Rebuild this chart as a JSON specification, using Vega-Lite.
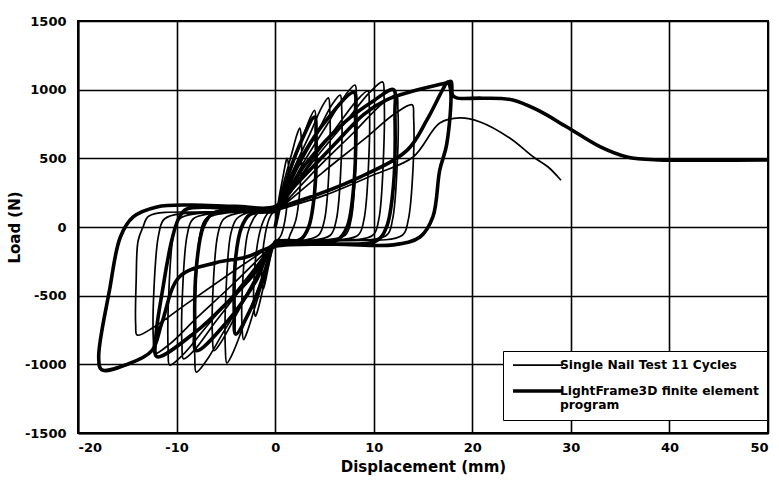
{
  "$schema": "https://vega.github.io/schema/vega-lite/v6.json",
  "width": 690,
  "height": 412,
  "autosize": {"type": "none"},
  "padding": {"left": 78, "top": 21, "right": 11, "bottom": 69},
  "background": "white",
  "config": {
    "view": {"stroke": "black", "strokeWidth": 2},
    "font": "DejaVu Sans",
    "axis": {
      "grid": true, "gridColor": "black", "gridWidth": 1.6, "gridOpacity": 1,
      "domainColor": "black", "domainWidth": 2, "ticks": false,
      "labelFont": "DejaVu Sans", "labelFontWeight": "bold", "labelFontSize": 13, "labelColor": "black",
      "labelExpr": "'' + datum.value",
      "titleFont": "DejaVu Sans", "titleFontWeight": "bold", "titleFontSize": 15, "titleColor": "black"
    }
  },
  "data": {"values": [
    {"s":"a","x":0,"y":0},
    {"s":"a","x":0.2,"y":120},{"s":"a","x":0.42,"y":225},{"s":"a","x":0.78,"y":360},{"s":"a","x":1.06,"y":465},{"s":"a","x":1.2,"y":500},{"s":"a","x":1.35,"y":450},{"s":"a","x":1.3,"y":250},{"s":"a","x":1.0,"y":50},{"s":"a","x":0.6,"y":-60},{"s":"a","x":0.3,"y":-90},{"s":"a","x":0,"y":-100},
    {"s":"a","x":-0.2,"y":-120},{"s":"a","x":-0.42,"y":-200},{"s":"a","x":-0.78,"y":-325},{"s":"a","x":-1.06,"y":-420},{"s":"a","x":-1.2,"y":-450},{"s":"a","x":-1.35,"y":-405},{"s":"a","x":-1.3,"y":-225},{"s":"a","x":-1.0,"y":-50},{"s":"a","x":-0.6,"y":60},{"s":"a","x":-0.3,"y":100},{"s":"a","x":0,"y":110},
    {"s":"a","x":0.2,"y":120},{"s":"a","x":0.88,"y":325},{"s":"a","x":1.63,"y":520},{"s":"a","x":2.2,"y":670},{"s":"a","x":2.5,"y":720},{"s":"a","x":2.65,"y":650},{"s":"a","x":2.6,"y":360},{"s":"a","x":2.1,"y":50},{"s":"a","x":1.5,"y":-60},{"s":"a","x":1.25,"y":-100},{"s":"a","x":0,"y":-100},
    {"s":"a","x":-0.2,"y":-120},{"s":"a","x":-0.7,"y":-290},{"s":"a","x":-1.3,"y":-470},{"s":"a","x":-1.76,"y":-605},{"s":"a","x":-2.0,"y":-650},{"s":"a","x":-2.15,"y":-585},{"s":"a","x":-2.1,"y":-325},{"s":"a","x":-1.6,"y":-50},{"s":"a","x":-1.1,"y":60},{"s":"a","x":-0.6,"y":110},{"s":"a","x":0,"y":110},
    {"s":"a","x":0.2,"y":120},{"s":"a","x":1.4,"y":380},{"s":"a","x":2.6,"y":610},{"s":"a","x":3.52,"y":790},{"s":"a","x":4.0,"y":850},{"s":"a","x":4.15,"y":765},{"s":"a","x":4.1,"y":425},{"s":"a","x":3.6,"y":50},{"s":"a","x":3.0,"y":-60},{"s":"a","x":2.0,"y":-100},{"s":"a","x":0,"y":-100},
    {"s":"a","x":-0.2,"y":-120},{"s":"a","x":-1.12,"y":-370},{"s":"a","x":-2.08,"y":-590},{"s":"a","x":-2.82,"y":-760},{"s":"a","x":-3.2,"y":-820},{"s":"a","x":-3.35,"y":-740},{"s":"a","x":-3.3,"y":-410},{"s":"a","x":-2.8,"y":-50},{"s":"a","x":-2.2,"y":60},{"s":"a","x":-1.6,"y":110},{"s":"a","x":0,"y":110},
    {"s":"a","x":0.2,"y":120},{"s":"a","x":1.89,"y":425},{"s":"a","x":3.51,"y":675},{"s":"a","x":4.75,"y":875},{"s":"a","x":5.4,"y":940},{"s":"a","x":5.55,"y":845},{"s":"a","x":5.5,"y":470},{"s":"a","x":5.0,"y":50},{"s":"a","x":4.4,"y":-60},{"s":"a","x":2.7,"y":-100},{"s":"a","x":0,"y":-100},
    {"s":"a","x":-0.2,"y":-120},{"s":"a","x":-1.72,"y":-445},{"s":"a","x":-3.19,"y":-715},{"s":"a","x":-4.31,"y":-920},{"s":"a","x":-4.9,"y":-990},{"s":"a","x":-5.05,"y":-890},{"s":"a","x":-5.0,"y":-495},{"s":"a","x":-4.5,"y":-50},{"s":"a","x":-3.9,"y":60},{"s":"a","x":-2.45,"y":110},{"s":"a","x":0,"y":110},
    {"s":"a","x":0.2,"y":120},{"s":"a","x":2.31,"y":430},{"s":"a","x":4.29,"y":690},{"s":"a","x":5.81,"y":895},{"s":"a","x":6.6,"y":960},{"s":"a","x":6.75,"y":865},{"s":"a","x":6.7,"y":480},{"s":"a","x":6.2,"y":50},{"s":"a","x":5.6,"y":-60},{"s":"a","x":3.3,"y":-100},{"s":"a","x":0,"y":-100},
    {"s":"a","x":-0.2,"y":-120},{"s":"a","x":-2.17,"y":-405},{"s":"a","x":-4.03,"y":-650},{"s":"a","x":-5.46,"y":-835},{"s":"a","x":-6.2,"y":-900},{"s":"a","x":-6.35,"y":-810},{"s":"a","x":-6.3,"y":-450},{"s":"a","x":-5.8,"y":-50},{"s":"a","x":-5.2,"y":60},{"s":"a","x":-3.1,"y":110},{"s":"a","x":0,"y":110},
    {"s":"a","x":0.2,"y":120},{"s":"a","x":2.84,"y":465},{"s":"a","x":5.27,"y":745},{"s":"a","x":7.13,"y":960},{"s":"a","x":8.1,"y":1034},{"s":"a","x":8.25,"y":930},{"s":"a","x":8.2,"y":515},{"s":"a","x":7.7,"y":50},{"s":"a","x":7.1,"y":-60},{"s":"a","x":4.05,"y":-100},{"s":"a","x":0,"y":-100},
    {"s":"a","x":-0.2,"y":-120},{"s":"a","x":-2.8,"y":-475},{"s":"a","x":-5.2,"y":-760},{"s":"a","x":-7.04,"y":-980},{"s":"a","x":-8.0,"y":-1056},{"s":"a","x":-8.15,"y":-950},{"s":"a","x":-8.1,"y":-530},{"s":"a","x":-7.6,"y":-50},{"s":"a","x":-7.0,"y":60},{"s":"a","x":-4.0,"y":110},{"s":"a","x":0,"y":110},
    {"s":"a","x":0.2,"y":120},{"s":"a","x":3.29,"y":445},{"s":"a","x":6.11,"y":715},{"s":"a","x":8.27,"y":920},{"s":"a","x":9.4,"y":990},{"s":"a","x":9.55,"y":890},{"s":"a","x":9.5,"y":495},{"s":"a","x":9.0,"y":50},{"s":"a","x":8.4,"y":-60},{"s":"a","x":4.7,"y":-100},{"s":"a","x":0,"y":-100},
    {"s":"a","x":-0.2,"y":-120},{"s":"a","x":-3.26,"y":-430},{"s":"a","x":-6.05,"y":-690},{"s":"a","x":-8.18,"y":-895},{"s":"a","x":-9.3,"y":-960},{"s":"a","x":-9.45,"y":-865},{"s":"a","x":-9.4,"y":-480},{"s":"a","x":-8.9,"y":-50},{"s":"a","x":-8.3,"y":60},{"s":"a","x":-4.65,"y":110},{"s":"a","x":0,"y":110},
    {"s":"a","x":0.2,"y":120},{"s":"a","x":3.82,"y":475},{"s":"a","x":7.09,"y":760},{"s":"a","x":9.59,"y":980},{"s":"a","x":10.9,"y":1056},{"s":"a","x":11.05,"y":950},{"s":"a","x":11.0,"y":530},{"s":"a","x":10.5,"y":50},{"s":"a","x":9.9,"y":-60},{"s":"a","x":5.45,"y":-100},{"s":"a","x":0,"y":-100},
    {"s":"a","x":-0.2,"y":-120},{"s":"a","x":-3.75,"y":-450},{"s":"a","x":-6.96,"y":-725},{"s":"a","x":-9.42,"y":-935},{"s":"a","x":-10.7,"y":-1005},{"s":"a","x":-10.85,"y":-905},{"s":"a","x":-10.8,"y":-500},{"s":"a","x":-10.3,"y":-50},{"s":"a","x":-9.7,"y":60},{"s":"a","x":-5.35,"y":110},{"s":"a","x":0,"y":110},
    {"s":"a","x":0.2,"y":120},{"s":"a","x":4.31,"y":430},{"s":"a","x":8.0,"y":690},{"s":"a","x":10.82,"y":895},{"s":"a","x":12.3,"y":960},{"s":"a","x":12.45,"y":865},{"s":"a","x":12.4,"y":480},{"s":"a","x":11.9,"y":50},{"s":"a","x":11.3,"y":-60},{"s":"a","x":6.15,"y":-100},{"s":"a","x":0,"y":-100},
    {"s":"a","x":-0.2,"y":-120},{"s":"a","x":-4.27,"y":-415},{"s":"a","x":-7.93,"y":-660},{"s":"a","x":-10.74,"y":-855},{"s":"a","x":-12.2,"y":-920},{"s":"a","x":-12.35,"y":-830},{"s":"a","x":-12.3,"y":-460},{"s":"a","x":-11.8,"y":-50},{"s":"a","x":-11.2,"y":60},{"s":"a","x":-6.1,"y":110},{"s":"a","x":0,"y":110},
    {"s":"a","x":0.2,"y":120},{"s":"a","x":4.87,"y":400},{"s":"a","x":9.04,"y":640},{"s":"a","x":12.23,"y":830},{"s":"a","x":13.9,"y":890},{"s":"a","x":14.05,"y":800},{"s":"a","x":14.0,"y":445},{"s":"a","x":13.5,"y":50},{"s":"a","x":12.9,"y":-60},{"s":"a","x":6.95,"y":-100},{"s":"a","x":0,"y":-100},
    {"s":"a","x":-0.2,"y":-120},{"s":"a","x":-4.9,"y":-355},{"s":"a","x":-9.1,"y":-565},{"s":"a","x":-12.32,"y":-730},{"s":"a","x":-14.0,"y":-787},{"s":"a","x":-14.15,"y":-710},{"s":"a","x":-14.1,"y":-395},{"s":"a","x":-13.9,"y":-100},{"s":"a","x":-13.4,"y":0},{"s":"a","x":-12.8,"y":80},{"s":"a","x":-7,"y":110},{"s":"a","x":0,"y":110},
    {"s":"a","x":0.2,"y":120},{"s":"a","x":5,"y":230},{"s":"a","x":10,"y":380},{"s":"a","x":14,"y":510},{"s":"a","x":16.7,"y":757},{"s":"a","x":18.75,"y":794},{"s":"a","x":20.8,"y":765},{"s":"a","x":23.8,"y":648},{"s":"a","x":26.2,"y":510},{"s":"a","x":27.7,"y":437},{"s":"a","x":28.7,"y":364},{"s":"a","x":29,"y":340},

    {"s":"b","x":0,"y":0},{"s":"b","x":1,"y":300},{"s":"b","x":2.5,"y":600},{"s":"b","x":4,"y":800},{"s":"b","x":4.15,"y":650},{"s":"b","x":4.0,"y":250},{"s":"b","x":3.4,"y":0},{"s":"b","x":2.6,"y":-90},{"s":"b","x":1.2,"y":-110},{"s":"b","x":0,"y":-120},
    {"s":"b","x":-1,"y":-330},{"s":"b","x":-2.5,"y":-600},{"s":"b","x":-4,"y":-780},{"s":"b","x":-4.15,"y":-620},{"s":"b","x":-4.0,"y":-220},{"s":"b","x":-3.4,"y":0},{"s":"b","x":-2.6,"y":90},{"s":"b","x":-1.2,"y":110},{"s":"b","x":0,"y":120},
    {"s":"b","x":2,"y":420},{"s":"b","x":5,"y":760},{"s":"b","x":8,"y":980},{"s":"b","x":8.15,"y":820},{"s":"b","x":8.0,"y":320},{"s":"b","x":7.3,"y":0},{"s":"b","x":6.3,"y":-95},{"s":"b","x":3,"y":-115},{"s":"b","x":0,"y":-120},
    {"s":"b","x":-2,"y":-400},{"s":"b","x":-5,"y":-700},{"s":"b","x":-8,"y":-900},{"s":"b","x":-8.15,"y":-720},{"s":"b","x":-8.0,"y":-300},{"s":"b","x":-7.3,"y":0},{"s":"b","x":-6.3,"y":100},{"s":"b","x":-3,"y":120},{"s":"b","x":0,"y":130},
    {"s":"b","x":3,"y":450},{"s":"b","x":7,"y":760},{"s":"b","x":10,"y":920},{"s":"b","x":12,"y":1000},{"s":"b","x":12.15,"y":830},{"s":"b","x":12.0,"y":300},{"s":"b","x":11.3,"y":0},{"s":"b","x":10.3,"y":-100},{"s":"b","x":5,"y":-125},{"s":"b","x":0,"y":-140},
    {"s":"b","x":-2,"y":-330},{"s":"b","x":-5,"y":-560},{"s":"b","x":-8,"y":-760},{"s":"b","x":-12,"y":-944},{"s":"b","x":-12.1,"y":-800},{"s":"b","x":-11.4,"y":-450},{"s":"b","x":-10.5,"y":-100},{"s":"b","x":-9.8,"y":60},{"s":"b","x":-9,"y":130},{"s":"b","x":-5,"y":140},{"s":"b","x":0,"y":140},
    {"s":"b","x":2,"y":180},{"s":"b","x":8.6,"y":364},{"s":"b","x":13.4,"y":560},{"s":"b","x":15.4,"y":780},{"s":"b","x":17,"y":1000},{"s":"b","x":17.5,"y":1056},{"s":"b","x":17.8,"y":1000},{"s":"b","x":17.4,"y":600},{"s":"b","x":16.7,"y":415},{"s":"b","x":16,"y":73},{"s":"b","x":14.7,"y":-73},{"s":"b","x":12,"y":-130},{"s":"b","x":6,"y":-125},{"s":"b","x":0,"y":-140},
    {"s":"b","x":-3,"y":-220},{"s":"b","x":-6,"y":-260},{"s":"b","x":-9.7,"y":-362},{"s":"b","x":-11.5,"y":-700},{"s":"b","x":-12.5,"y":-900},{"s":"b","x":-15,"y":-1000},{"s":"b","x":-17.6,"y":-1040},{"s":"b","x":-17.9,"y":-950},{"s":"b","x":-16.8,"y":-459},{"s":"b","x":-15.7,"y":-73},{"s":"b","x":-14.4,"y":73},{"s":"b","x":-12,"y":146},{"s":"b","x":-8.6,"y":160},{"s":"b","x":-4,"y":150},{"s":"b","x":0,"y":150},
    {"s":"b","x":2,"y":300},{"s":"b","x":6,"y":600},{"s":"b","x":9,"y":820},{"s":"b","x":11.3,"y":925},{"s":"b","x":14,"y":990},{"s":"b","x":17.4,"y":1050},{"s":"b","x":17.85,"y":1060},{"s":"b","x":18.0,"y":960},{"s":"b","x":18.4,"y":940},{"s":"b","x":21,"y":938},{"s":"b","x":24.1,"y":925},{"s":"b","x":26.6,"y":852},{"s":"b","x":29.6,"y":728},{"s":"b","x":33,"y":583},{"s":"b","x":35.7,"y":510},{"s":"b","x":39,"y":488},{"s":"b","x":44,"y":487},{"s":"b","x":50,"y":488}
  ]},
  "mark": {"type": "line", "interpolate": "catmull-rom", "color": "black", "clip": true},
  "encoding": {
    "x": {"field": "x", "type": "quantitative", "title": "Displacement (mm)",
      "scale": {"domain": [-20, 50], "nice": false},
      "axis": {"values": [-20, -10, 0, 10, 20, 30, 40, 50], "labelPadding": 8, "titlePadding": 5}},
    "y": {"field": "y", "type": "quantitative", "title": "Load (N)",
      "scale": {"domain": [-1500, 1500], "nice": false},
      "axis": {"values": [-1500, -1000, -500, 0, 500, 1000, 1500], "labelPadding": 12, "titlePadding": 2, "titleFontSize": 15}},
    "strokeWidth": {"field": "s", "type": "nominal",
      "scale": {"domain": ["a", "b"], "range": [1.7, 3.6]},
      "legend": {
        "title": null, "orient": "none", "legendX": 425, "legendY": 330,
        "symbolType": "M-1,0H9", "symbolSize": 100, "symbolStrokeColor": "black", "symbolFillColor": "transparent",
        "labelExpr": "datum.value == 'a' ? 'Single Nail Test 11 Cycles' : ['LightFrame3D finite element', 'program']",
        "labelFont": "DejaVu Sans", "labelFontWeight": "bold", "labelFontSize": 12.3, "labelColor": "black",
        "labelOffset": 35, "labelLimit": 300,
        "strokeColor": "black", "fillColor": "white", "padding": 8,
        "rowPadding": 11
      }
    },
    "order": {"value": null}
  }
}
